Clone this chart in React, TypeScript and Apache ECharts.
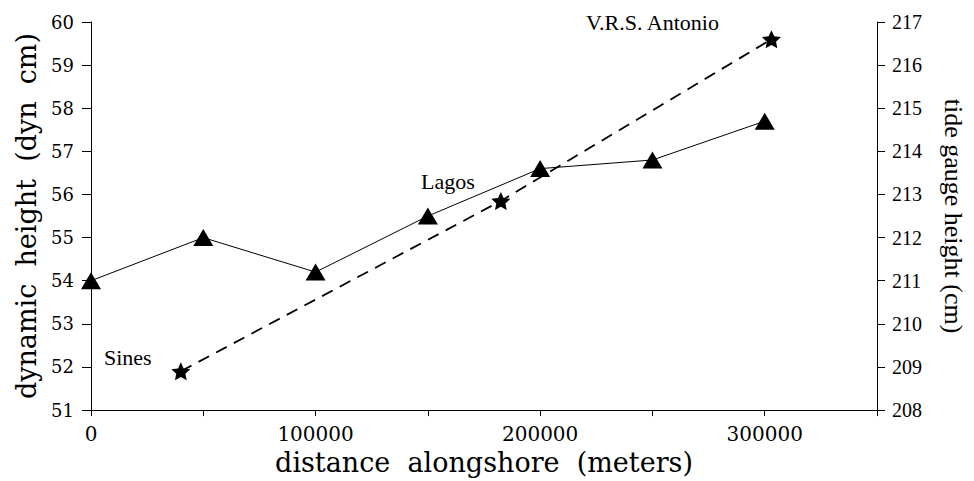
import React, { useEffect, useRef } from "react";
import * as echarts from "echarts";

const distances = [0, 50000, 100000, 150000, 200000, 250000, 300000];
const dynamicHeight = [54.0, 55.0, 54.2, 55.5, 56.6, 56.8, 57.7];

const gaugeNames = ["Sines", "Lagos", "V.R.S. Antonio"];
const gaugeDistances = [40000, 182500, 303000];
const gaugeHeights = [208.9, 212.85, 216.6];
const gaugeLabelOffsets: [number, number][] = [
  [-53, -14],
  [-53, -19],
  [-119, -17],
];

const xTickLabels = ["0", "100000", "200000", "300000"];

const STAR =
  "path://M50,0 L64.11,30.58 L97.55,34.55 L72.83,57.42 L79.39,90.45 L50,74 L20.61,90.45 L27.17,57.42 L2.45,34.55 L35.89,30.58 Z";

const SERIF_WIDE = "'DejaVu Serif', serif";
const TIMES = "'Liberation Serif', 'Times New Roman', serif";

export default function App() {
  const ref = useRef<HTMLDivElement>(null);

  useEffect(() => {
    if (!ref.current) return;
    const chart = echarts.init(ref.current, undefined, { renderer: "svg" });
    chart.setOption({
      animation: false,
      backgroundColor: "#ffffff",
      grid: { left: 91, right: 89, top: 22, bottom: 63, containLabel: false },
      xAxis: {
        type: "value",
        min: 0,
        max: 350000,
        interval: 50000,
        name: "distance  alongshore  (meters)",
        nameLocation: "middle",
        nameGap: 36,
        nameTextStyle: { fontFamily: SERIF_WIDE, fontSize: 27, color: "#000" },
        axisLine: { show: true, onZero: false, lineStyle: { color: "#000", width: 1 } },
        axisTick: { show: true, length: 6, inside: false, lineStyle: { color: "#000" } },
        splitLine: { show: false },
        axisLabel: {
          margin: 14,
          fontFamily: SERIF_WIDE,
          fontSize: 20,
          color: "#000",
          showMaxLabel: true,
          formatter: (v: number) =>
            xTickLabels.indexOf(String(v)) >= 0 ? String(v) : "",
        },
      },
      yAxis: [
        {
          type: "value",
          position: "left",
          min: 51,
          max: 60,
          interval: 1,
          name: "dynamic  height  (dyn  cm)",
          nameLocation: "middle",
          nameGap: 50,
          nameRotate: 90,
          nameTextStyle: { fontFamily: SERIF_WIDE, fontSize: 27, color: "#000" },
          axisLine: { show: true, onZero: false, lineStyle: { color: "#000", width: 1 } },
          axisTick: { show: true, length: 9, lineStyle: { color: "#000" } },
          splitLine: { show: false },
          axisLabel: { margin: 17, fontFamily: SERIF_WIDE, fontSize: 18, color: "#000" },
        },
        {
          type: "value",
          position: "right",
          min: 208,
          max: 217,
          interval: 1,
          name: "tide gauge height (cm)",
          nameLocation: "middle",
          nameGap: 63,
          nameRotate: -90,
          nameTextStyle: { fontFamily: TIMES, fontSize: 26, color: "#000" },
          axisLine: { show: true, onZero: false, lineStyle: { color: "#000", width: 1 } },
          axisTick: { show: true, length: 8, lineStyle: { color: "#000" } },
          splitLine: { show: false },
          axisLabel: { margin: 15, fontFamily: TIMES, fontSize: 20, color: "#000" },
        },
      ],
      series: [
        {
          type: "line",
          yAxisIndex: 0,
          data: distances.map((d, i) => [d, dynamicHeight[i]]),
          symbol: "triangle",
          symbolSize: [20, 17],
          itemStyle: { color: "#000" },
          lineStyle: { color: "#000", width: 1 },
          z: 3,
        },
        {
          type: "line",
          yAxisIndex: 1,
          data: gaugeDistances.map((d, i) => ({
            value: [d, gaugeHeights[i]],
            name: gaugeNames[i],
            label: {
              show: true,
              position: "inside",
              offset: gaugeLabelOffsets[i],
              formatter: gaugeNames[i],
              fontFamily: TIMES,
              fontSize: 22,
              color: "#000",
            },
          })),
          symbol: STAR,
          symbolSize: [19, 18],
          itemStyle: { color: "#000" },
          lineStyle: { color: "#000", width: 1.8, type: [12, 8] },
          z: 4,
        },
      ],
    });
    return () => chart.dispose();
  }, []);

  return (
    <div
      ref={ref}
      style={{ position: "fixed", left: 0, top: 0, width: 974, height: 481, background: "#fff" }}
    />
  );
}
